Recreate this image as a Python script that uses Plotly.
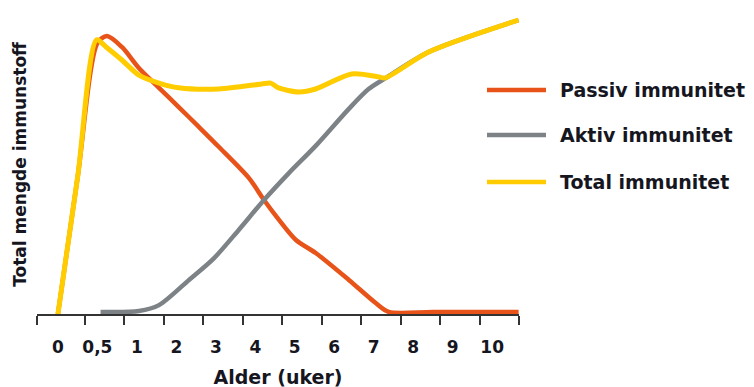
import plotly.graph_objects as go

# ---- data (x in weeks, y in relative amount) ----
tick_labels = ["0", "0,5", "1", "2", "3", "4", "5", "6", "7", "8", "9", "10"]
label_weeks = [0, 0.5, 1, 2, 3, 4, 5, 6, 7, 8, 9, 10]

series_names = ["Passiv immunitet", "Aktiv immunitet", "Total immunitet"]

passiv_w = [0, 0.25, 0.5, 0.62, 0.81, 1.05, 1.56, 2.06, 2.57, 3.08, 3.84, 4.22, 4.60,
            5.03, 5.53, 6.37, 7.05, 7.38, 8.5, 10.67]
passiv_v = [0, 46.3, 91.5, 93.9, 90.2, 83.1, 76.4, 69.9, 63.2, 56.4, 45.9, 38.5, 31.8,
            25.0, 20.6, 11.5, 3.7, 0.7, 0.7, 0.7]

aktiv_w = [0.54, 1.05, 1.56, 2.32, 2.95, 3.58, 4.22, 4.85, 5.53, 6.37, 6.87, 7.30, 8.39, 10.67]
aktiv_v = [0.7, 1.0, 3.0, 11.5, 18.8, 28.4, 38.5, 47.6, 56.8, 69.3, 76.0, 79.7, 88.5, 99.3]

total_w = [0, 0.25, 0.49, 0.61, 0.81, 1.05, 1.56, 2.06, 3.08, 4.16, 4.39, 4.59, 5.10,
           5.53, 6.44, 7.13, 7.28, 8.39, 10.67]
total_v = [0, 46.3, 92.6, 90.2, 85.8, 80.7, 78.0, 76.4, 76.0, 77.7, 78.0, 76.4, 75.0,
           76.0, 81.1, 80.1, 79.7, 88.5, 99.3]


def pos(w):
    # axis is stretched: 0, 0.5 and 1 week get one slot each, then one slot per week
    return 2 * w if w <= 1 else w + 1


FONT = "DejaVu Sans"
TXT = "#16161f"
ORANGE = "#E8531A"
GRAY = "#7C8286"
YELLOW = "#FFCC00"
colors = [ORANGE, GRAY, YELLOW]
widths = [4.5, 4.5, 5]

W, H = 754, 387
OFF = 8                      # page body margin offset
PL, PT, PW, PH = 37, 15, 482, 299   # plot area in window pixels
ML, MT = PL - OFF, PT - OFF
MR, MB = W - ML - PW, H - MT - PH

fig = go.Figure()
for name, xs, ys, c, lw in zip(series_names, [passiv_w, aktiv_w, total_w],
                               [passiv_v, aktiv_v, total_v], colors, widths):
    fig.add_trace(go.Scatter(x=[pos(w) for w in xs], y=ys, mode="lines", name=name,
                             showlegend=False,
                             line=dict(color=c, width=lw, shape="spline", smoothing=0.8)))

# legend drawn as long line swatches + labels (paper coordinates)
leg_x0, leg_x1, leg_tx = 487, 546, 558
leg_y = [90, 135, 182]
for name, c, py in zip(series_names, colors, leg_y):
    yp = (PT + PH - py) / PH
    fig.add_shape(type="line", xref="paper", yref="paper",
                  x0=(leg_x0 - PL) / PW, x1=(leg_x1 - PL) / PW, y0=yp, y1=yp,
                  line=dict(color=c, width=4.5))
    fig.add_annotation(xref="paper", yref="paper", x=(leg_tx - PL) / PW, y=yp,
                       xanchor="left", yanchor="middle", text=name, showarrow=False,
                       font=dict(family=FONT, size=19, color=TXT, weight="bold"))

x_min, x_max = -0.53, 11.68
tick_marks = [x_min] + [0.68 + k for k in range(12)]

fig.update_layout(
    width=W, height=H,
    margin=dict(l=ML, r=MR, t=MT, b=MB, autoexpand=False),
    paper_bgcolor="white", plot_bgcolor="white",
    font=dict(family=FONT, size=17, color=TXT, weight="bold"),
    showlegend=False,
    xaxis=dict(range=[x_min, x_max], showgrid=False, zeroline=False, automargin=False,
               showline=True, linecolor="#333333", linewidth=2,
               tickmode="array", tickvals=[pos(w) for w in label_weeks], ticktext=tick_labels,
               ticks="", ticklabelstandoff=17,
               tickfont=dict(family=FONT, size=17, color=TXT, weight="bold"),
               minor=dict(tickmode="array", tickvals=tick_marks, ticks="outside",
                          ticklen=9, tickwidth=2, tickcolor="#333333", showgrid=False),
               title=dict(text="Alder (uker)", standoff=14,
                          font=dict(family=FONT, size=19, color=TXT, weight="bold"))),
    yaxis=dict(range=[0, 101], showgrid=False, zeroline=False, showline=False,
               showticklabels=False, ticks="", automargin=False,
               title=dict(text="Total mengde immunstoff", standoff=5,
                          font=dict(family=FONT, size=17, color=TXT, weight="bold"))),
)

fig.write_html("out.html")
